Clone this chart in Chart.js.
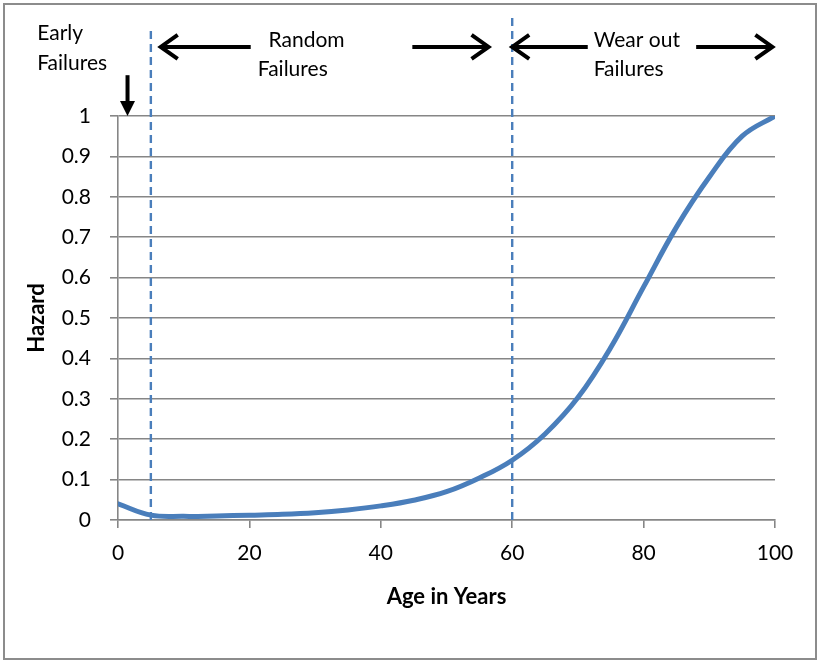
<!DOCTYPE html>
<html>
<head>
<meta charset="utf-8">
<script src="https://cdn.jsdelivr.net/npm/chart.js@4"></script>
<style>
  body { margin: 0; background: #fff; }
  canvas { display: block; }
</style>
</head>
<body>
<canvas id="hazardChart" width="820" height="662"></canvas>
<script>
// data
const ages = [0, 5, 10, 15, 20, 25, 30, 35, 40, 45, 50, 55, 60, 65, 70, 75, 80, 85, 90, 95, 100];
const hazard = [0.04, 0.012, 0.009, 0.01, 0.012, 0.014, 0.018, 0.025, 0.035, 0.049, 0.07, 0.104, 0.148,
                0.213, 0.303, 0.427, 0.577, 0.725, 0.849, 0.95, 1.0];
const yTickLabels = ['0', '0.1', '0.2', '0.3', '0.4', '0.5', '0.6', '0.7', '0.8', '0.9', '1'];
const xTickLabels = ['0', '20', '40', '60', '80', '100'];
// phase boundaries (age) and how far above the plot the dashed line reaches (hazard units)
const phaseAges = [5, 60];
const phaseTops = [1.213, 1.255];

const blue = '#4a7ebb';
const grey = '#868686';
const font = 'Lato';

let points = ages.map((a, i) => ({ x: a, y: hazard[i] }));

let phaseSets = phaseAges.map((a, i) => ({
    data: [{ x: a, y: 0 }, { x: a, y: phaseTops[i] }],
    borderColor: blue,
    borderWidth: 2.4,
    borderDash: [8, 5],
    pointRadius: 0,
    clip: false,
    tension: 0
}));

// labels and arrows over the plot, placed in axis units
const notes = [
    { text: 'Early', x: -12.3, y: 1.205, align: 'left' },
    { text: 'Failures', x: -12.3, y: 1.131, align: 'left' },
    { text: 'Random', x: 28.7, y: 1.188, align: 'center' },
    { text: 'Failures', x: 26.6, y: 1.116, align: 'center' },
    { text: 'Wear out', x: 72.4, y: 1.188, align: 'left' },
    { text: 'Failures', x: 72.4, y: 1.116, align: 'left' }
];
const arrows = [
    { from: [20.2, 1.171], to: [6.5, 1.171] },
    { from: [44.8, 1.171], to: [56.4, 1.171] },
    { from: [71.5, 1.171], to: [60.0, 1.171] },
    { from: [88.0, 1.171], to: [99.6, 1.171] }
];
const dropArrow = { x: 1.45, from: 1.101, to: 1.0 };

const extras = {
    id: 'extras',
    beforeDraw(chart) {
        const c = chart.ctx;
        c.save();
        c.fillStyle = '#fff';
        c.fillRect(0, 0, chart.width, chart.height);
        c.strokeStyle = '#8c8c8c';
        c.lineWidth = 2;
        c.strokeRect(4, 4, 812, 655);
        c.restore();
    },
    afterDraw(chart) {
        const c = chart.ctx;
        const sx = chart.scales.x, sy = chart.scales.y;
        c.save();
        c.fillStyle = '#000';
        c.font = '21px ' + font;
        c.textBaseline = 'middle';
        notes.forEach(n => {
            c.textAlign = n.align;
            c.fillText(n.text, sx.getPixelForValue(n.x), sy.getPixelForValue(n.y));
        });

        c.strokeStyle = '#000';
        c.lineWidth = 4;
        arrows.forEach(a => {
            let x1 = sx.getPixelForValue(a.from[0]), y1 = sy.getPixelForValue(a.from[1]);
            let x2 = sx.getPixelForValue(a.to[0]), y2 = sy.getPixelForValue(a.to[1]);
            let dir = Math.sign(x2 - x1);
            c.beginPath();
            c.moveTo(x1, y1);
            c.lineTo(x2 - dir * 2, y2);
            c.stroke();
            c.beginPath();
            c.moveTo(x2 - dir * 17, y2 - 12);
            c.lineTo(x2, y2);
            c.lineTo(x2 - dir * 17, y2 + 12);
            c.stroke();
        });

        let dx = sx.getPixelForValue(dropArrow.x);
        let dy1 = sy.getPixelForValue(dropArrow.from), dy2 = sy.getPixelForValue(dropArrow.to);
        c.lineWidth = 4;
        c.beginPath();
        c.moveTo(dx, dy1);
        c.lineTo(dx, dy2 - 12);
        c.stroke();
        c.beginPath();
        c.moveTo(dx - 7.5, dy2 - 15);
        c.lineTo(dx + 7.5, dy2 - 15);
        c.lineTo(dx, dy2);
        c.closePath();
        c.fill();
        c.restore();
    }
};

new Chart(document.getElementById('hazardChart'), {
    type: 'line',
    data: {
        datasets: [{
            data: points,
            borderColor: blue,
            borderWidth: 5,
            pointRadius: 0,
            tension: 0.4,
            borderCapStyle: 'round'
        }].concat(phaseSets)
    },
    options: {
        responsive: false,
        animation: false,
        layout: { padding: { left: 0, top: 116, right: 45, bottom: 0 } },
        plugins: { legend: { display: false }, tooltip: { enabled: false } },
        scales: {
            x: {
                type: 'linear',
                min: 0,
                max: 100,
                afterFit: s => { s.height = 142; },
                ticks: {
                    stepSize: 20,
                    color: '#000',
                    padding: 13,
                    font: { family: font, size: 21 },
                    callback: (v, i) => xTickLabels[i]
                },
                grid: { drawOnChartArea: false, color: grey, lineWidth: 1.6, tickLength: 8 },
                border: { color: grey, width: 1.6 },
                title: {
                    display: true,
                    text: 'Age in Years',
                    color: '#000',
                    font: { family: font, size: 22, weight: 'bold' },
                    padding: { top: 0, bottom: 52 }
                }
            },
            y: {
                min: 0,
                max: 1,
                afterFit: s => { s.width = 118; },
                ticks: {
                    stepSize: 0.1,
                    color: '#000',
                    padding: 19,
                    font: { family: font, size: 21 },
                    callback: (v, i) => yTickLabels[i]
                },
                grid: { color: grey, lineWidth: 1.6, tickLength: 8 },
                border: { color: grey, width: 1.6 },
                title: {
                    display: true,
                    text: 'Hazard',
                    color: '#000',
                    font: { family: font, size: 22, weight: 'bold' },
                    padding: { top: 24, bottom: 0 }
                }
            }
        }
    },
    plugins: [extras]
});
</script>
</body>
</html>
